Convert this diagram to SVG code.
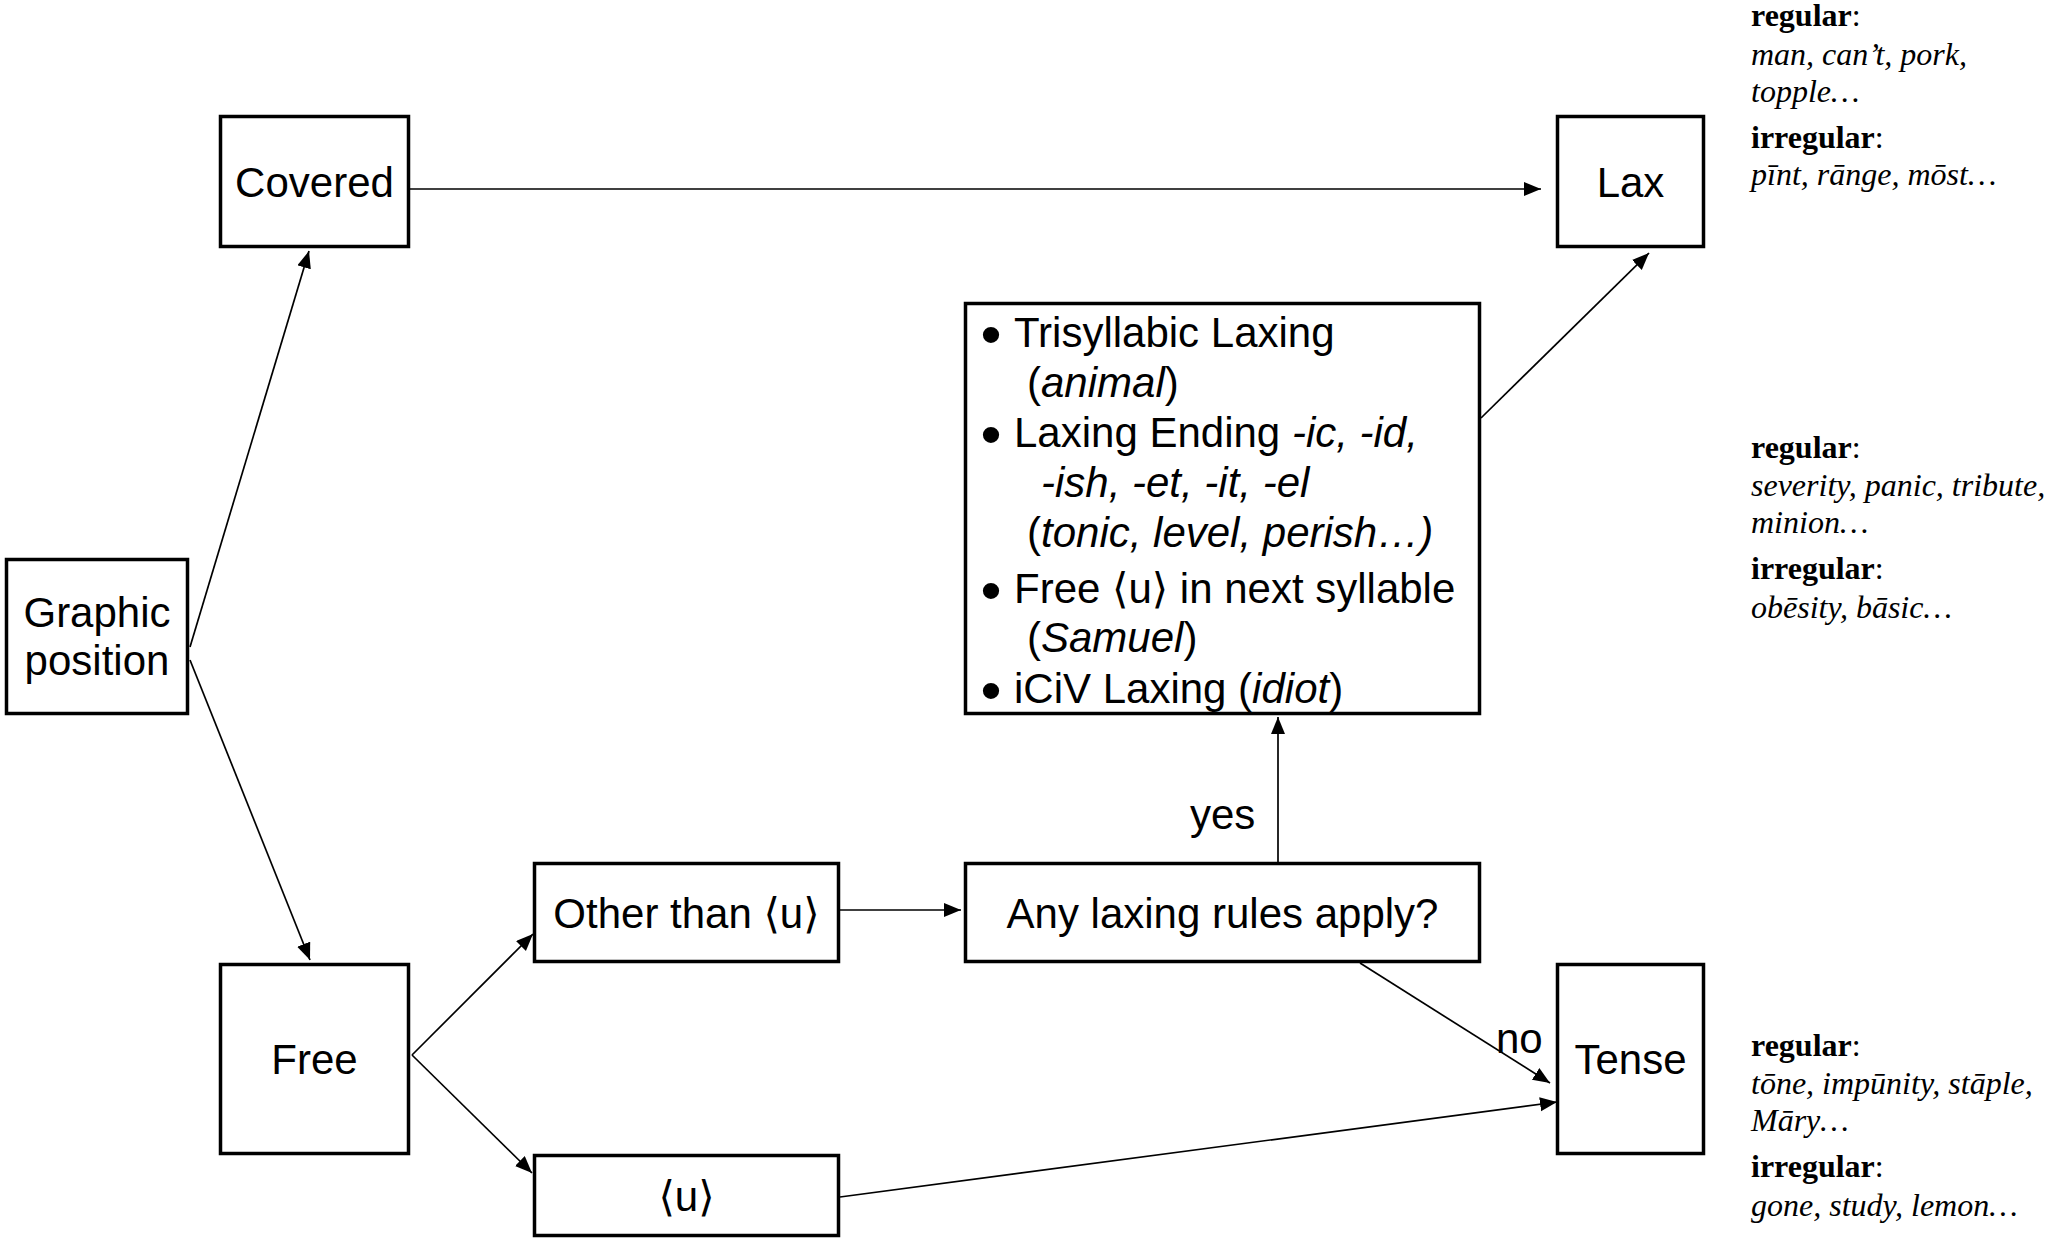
<svg xmlns="http://www.w3.org/2000/svg" width="2049" height="1239" viewBox="0 0 2049 1239">
<style>
.box{fill:#fff;stroke:#000;stroke-width:3.5}
.t{font-family:"Liberation Sans",Arial,"DejaVu Sans",sans-serif;font-size:42px;fill:#000}
.bl{font-family:"Liberation Sans",Arial,"DejaVu Sans",sans-serif;font-size:60px;fill:#000}
.c{text-anchor:middle}
.i{font-style:italic}
.con line{stroke:#000;stroke-width:1.7;marker-end:url(#ah)}
.n{font-family:"Liberation Serif","Times New Roman","DejaVu Serif",serif;font-size:32px;fill:#000}
.b{font-weight:bold}
</style>
<defs>
<marker id="ah" markerUnits="userSpaceOnUse" markerWidth="18" markerHeight="15" refX="17" refY="7" orient="auto">
<path d="M0,0 L17,7 L0,14 z" fill="#000"/>
</marker>
</defs>
<rect width="2049" height="1239" fill="#fff"/>
<g id="connectors" class="con">
<line x1="190" y1="647" x2="309" y2="251"/>
<line x1="190" y1="660" x2="310" y2="960"/>
<line x1="410" y1="189" x2="1541" y2="189"/>
<line x1="1481" y1="418" x2="1649" y2="253"/>
<line x1="412" y1="1055" x2="533" y2="934"/>
<line x1="412" y1="1055" x2="532" y2="1173"/>
<line x1="840" y1="910" x2="961" y2="910"/>
<line x1="1278" y1="862" x2="1278" y2="717"/>
<line x1="1360" y1="963" x2="1550" y2="1083"/>
<line x1="840" y1="1197" x2="1557" y2="1102"/>
</g>
<g id="graphic-position">
<rect class="box" x="6.5" y="559.5" width="181" height="154"/>
<text class="t c" x="97" y="627">Graphic</text>
<text class="t c" x="97" y="675">position</text>
</g>
<g id="covered">
<rect class="box" x="220.5" y="116.5" width="188" height="130"/>
<text class="t c" x="314.5" y="197">Covered</text>
</g>
<g id="lax">
<rect class="box" x="1557.5" y="116.5" width="146" height="130"/>
<text class="t c" x="1630.5" y="197">Lax</text>
</g>
<g id="laxing-rules">
<rect class="box" x="965.5" y="303.5" width="514" height="410"/>
<text class="bl" x="980.5" y="354.5">•</text>
<text class="t" x="1014" y="347">Trisyllabic Laxing</text>
<text class="t" x="1027" y="397">(<tspan class="i">animal</tspan>)</text>
<text class="bl" x="980.5" y="454.5">•</text>
<text class="t" x="1014" y="447">Laxing Ending <tspan class="i">-ic, -id,</tspan></text>
<text class="t i" x="1041" y="497">-ish, -et, -it, -el</text>
<text class="t" x="1027" y="547">(<tspan class="i">tonic, level, perish…)</tspan></text>
<text class="bl" x="980.5" y="610.5">•</text>
<text class="t" x="1014" y="603">Free ⟨u⟩ in next syllable</text>
<text class="t" x="1027" y="652">(<tspan class="i">Samuel</tspan>)</text>
<text class="bl" x="980.5" y="710.5">•</text>
<text class="t" x="1014" y="703">iCiV Laxing (<tspan class="i">idiot</tspan>)</text>
</g>
<g id="other-than-u">
<rect class="box" x="534.5" y="863.5" width="304" height="98"/>
<text class="t c" x="686.5" y="928">Other than ⟨u⟩</text>
</g>
<g id="any-laxing">
<rect class="box" x="965.5" y="863.5" width="514" height="98"/>
<text class="t c" x="1222.5" y="928">Any laxing rules apply?</text>
</g>
<g id="free">
<rect class="box" x="220.5" y="964.5" width="188" height="189"/>
<text class="t c" x="314.5" y="1074">Free</text>
</g>
<g id="tense">
<rect class="box" x="1557.5" y="964.5" width="146" height="189"/>
<text class="t c" x="1630.5" y="1074">Tense</text>
</g>
<g id="u">
<rect class="box" x="534.5" y="1155.5" width="304" height="80"/>
<text class="t c" x="686.5" y="1211">⟨u⟩</text>
</g>
<g id="labels">
<text class="t" x="1190" y="829">yes</text>
<text class="t" x="1496" y="1053">no</text>
</g>
<g id="notes-lax">
<text class="n" x="1751" y="26"><tspan class="b">regular</tspan>:</text>
<text class="n i" x="1751" y="65">man, can’t, pork,</text>
<text class="n i" x="1751" y="102">topple…</text>
<text class="n" x="1751" y="148"><tspan class="b">irregular</tspan>:</text>
<text class="n i" x="1751" y="185">pīnt, rānge, mōst…</text>
</g>
<g id="notes-rules">
<text class="n" x="1751" y="458"><tspan class="b">regular</tspan>:</text>
<text class="n i" x="1751" y="496">severity, panic, tribute,</text>
<text class="n i" x="1751" y="533">minion…</text>
<text class="n" x="1751" y="579"><tspan class="b">irregular</tspan>:</text>
<text class="n i" x="1751" y="618">obēsity, bāsic…</text>
</g>
<g id="notes-tense">
<text class="n" x="1751" y="1056"><tspan class="b">regular</tspan>:</text>
<text class="n i" x="1751" y="1094">tōne, impūnity, stāple,</text>
<text class="n i" x="1751" y="1131">Māry…</text>
<text class="n" x="1751" y="1177"><tspan class="b">irregular</tspan>:</text>
<text class="n i" x="1751" y="1216">gone, study, lemon…</text>
</g>
</svg>
